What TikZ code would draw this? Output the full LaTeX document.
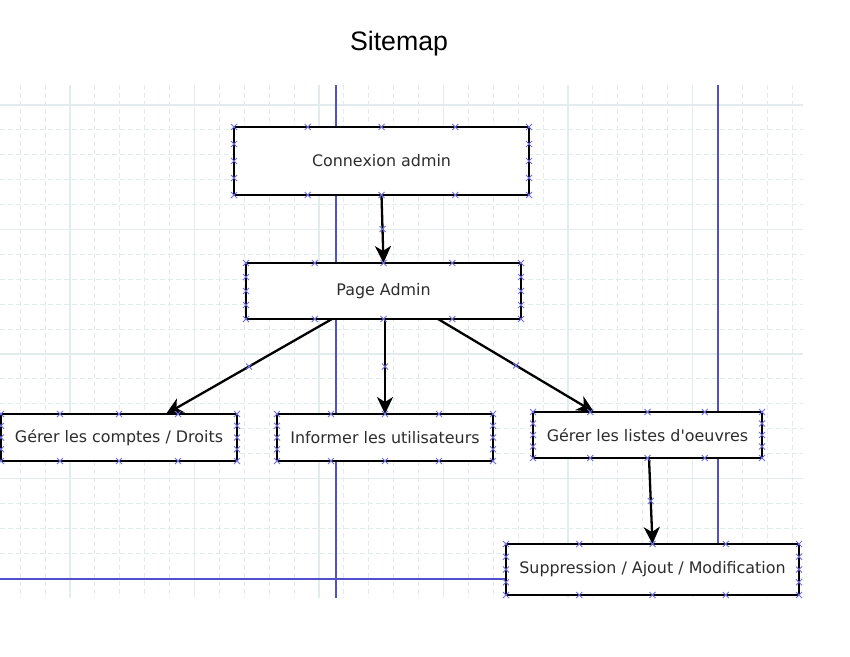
\documentclass[tikz,border=0pt]{standalone}
\usepackage{fontspec}
\setmainfont{Liberation Sans}
\newfontfamily\boxfont{DejaVu Sans}
\usetikzlibrary{arrows.meta,calc}
\definecolor{gridc}{RGB}{226,236,236}
\definecolor{markblue}{RGB}{110,110,230}
\definecolor{guideblue}{RGB}{80,80,205}
\definecolor{txt}{RGB}{45,45,45}
\begin{document}
\begin{tikzpicture}[x=1pt,y=-1pt,
 box/.style={draw=black,fill=white,line width=2.4pt,rectangle,inner sep=0pt,outer sep=0pt,font=\boxfont\fontsize{15.9}{18}\selectfont,text=txt},
 conn/.style={draw=black,line width=2.3pt,-{Stealth[length=17pt,width=16pt,inset=5pt]}},
 cx/.pic={\draw[markblue,line width=0.8pt] (-3,-3)--(3,3) (-3,3)--(3,-3);},
 gridmaj/.style={draw=gridc,line width=1.4pt},
 gridmin/.style={draw=gridc,line width=1pt,dash pattern=on 5pt off 3pt},
 guide/.style={draw=guideblue,line width=1.2pt}]
\useasboundingbox (0,0) rectangle (850,656);
\fill[white] (0,0) rectangle (850,656);
% grid
\foreach \i in {0,...,31} \draw[gridmin] ({20.2+24.9*\i},85) -- ({20.2+24.9*\i},598);
\foreach \i in {0,...,19} \draw[gridmin] (0,{105+24.9*\i}) -- (803,{105+24.9*\i});
\foreach \i in {0,...,5} \draw[gridmaj] ({70+124.5*\i},85) -- ({70+124.5*\i},598);
\foreach \i in {0,...,3} \draw[gridmaj] (0,{105+124.5*\i}) -- (803,{105+124.5*\i});
% guides
\coordinate (ga1) at (336,85);
\coordinate (ga2) at (336,598);
\coordinate (gb1) at (718,85);
\coordinate (gb2) at (718,544);
\coordinate (gc1) at (0,579);
\coordinate (gc2) at (506,579);
\draw[guide] (ga1) -- (ga2);
\draw[guide,line width=1.7pt] (gb1) -- (gb2);
\draw[guide,line width=1.8pt] (gc1) -- (gc2);
% title
\node (title) at (399,44) {\fontsize{26.7}{30}\selectfont Sitemap};
% boxes
\node[box,minimum width=295pt,minimum height=68pt] (c) at (381.5,161) {Connexion admin};
\node[box,minimum width=275pt,minimum height=56pt] (p) at (383.5,291) {Page Admin};
\node[box,minimum width=236pt,minimum height=47pt] (g) at (119,437.5) {Gérer les comptes / Droits};
\node[box,minimum width=216pt,minimum height=47pt] (i) at (385,437.5) {Informer les utilisateurs};
\node[box,minimum width=229pt,minimum height=46pt] (gl) at (647.5,435) {Gérer les listes d'oeuvres};
\node[box,minimum width=293pt,minimum height=51pt] (s) at (652.5,569.5) {Suppression / Ajout / Modification};
% connectors
\draw[conn] (c.south) -- (p.north);
\draw[conn] ([xshift=86pt]p.south west) -- ([xshift=165pt]g.north west);
\draw[conn] (p.south -| i.north) -- (i.north);
\draw[conn] ([xshift=192pt]p.south west) -- ([xshift=61pt]gl.north west);
\draw[conn] ([xshift=1.5pt]gl.south) -- (s.north);
% connector midpoints
\pic at ($(c.south)!0.5!(p.north)$) {cx};
\pic at ($([xshift=86pt]p.south west)!0.5!([xshift=165pt]g.north west)$) {cx};
\pic at ($(p.south -| i.north)!0.5!(i.north)$) {cx};
\pic at ($([xshift=192pt]p.south west)!0.5!([xshift=61pt]gl.north west)$) {cx};
\pic at ($([xshift=1.5pt]gl.south)!0.5!(s.north)$) {cx};
% connection points
\foreach \n in {c,p,g,i,gl,s}{
 \foreach \t in {0,0.25,0.5,0.75,1}{
  \pic at ($(\n.north west)!\t!(\n.north east)$) {cx};
  \pic at ($(\n.south west)!\t!(\n.south east)$) {cx};
 }
 \foreach \t in {0.25,0.5,0.75}{
  \pic at ($(\n.north west)!\t!(\n.south west)$) {cx};
  \pic at ($(\n.north east)!\t!(\n.south east)$) {cx};
 }
}
\end{tikzpicture}
\end{document}
